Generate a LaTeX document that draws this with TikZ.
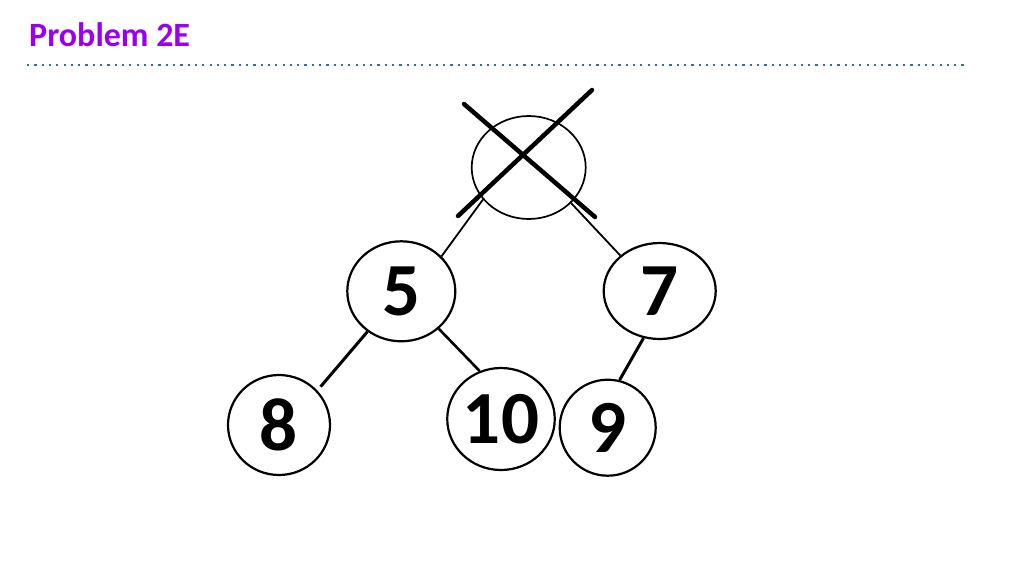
\documentclass[tikz,border=0pt]{standalone}
\usepackage{fontspec}
\setmainfont{Carlito}
\usepackage{xcolor}
\usepackage{tikz}
\usetikzlibrary{shapes.geometric}

\definecolor{titlepurple}{HTML}{9A00F0}
\definecolor{dotblue}{HTML}{2A72A8}

\tikzset{
  heapnode/.style={draw, ellipse, line width=2.2pt, inner sep=0pt,
    font=\fontsize{75}{75}\selectfont\bfseries},
  heapedge/.style={line width=1.8pt},
}

\begin{document}
\begin{tikzpicture}[x=1pt, y=-1pt]
    \useasboundingbox (0,0) rectangle (1024,576);

    % Title
    \node[anchor=base west, inner sep=0pt, text=titlepurple,
      font=\fontsize{34}{34}\selectfont\bfseries] (title) at (29,46) {Problem 2E};

    % Dotted rule
    \draw[dotblue, line width=2.2pt, dash pattern=on 2.2pt off 5.1pt] (27,65) -- (968,65);

    % Root (removed)
    \node[heapnode, line width=1.7pt, minimum width=114pt, minimum height=103pt] (root) at (528.7,167.5) {};
    \draw[line width=4.5pt, line cap=round] (464,104) -- (595,217);
    \draw[line width=4.5pt, line cap=round] (592,90) -- (458,216);

    % Second level
    \node[heapnode, minimum width=108pt, minimum height=100pt] (n5) at (401.3,291.3) {5};
    \node[heapnode, minimum width=112pt, minimum height=96pt] (n7) at (659.7,291) {7};

    % Leaves
    \node[heapnode, minimum width=102pt, minimum height=100pt] (n8) at (279,425) {8};
    \node[heapnode, minimum width=104pt, minimum height=102pt] (n10) at (501,419) {10};
    \node[heapnode, minimum width=96pt, minimum height=96pt] (n9) at (607.7,427.7) {9};

    % Edges
    \draw[heapedge] (root.215) -- (n5.41);
    \draw[heapedge] (root.320) -- (n7.138);
    \draw[heapedge, line width=3pt, shorten >=5pt] (n5.230) -- (n8.42);
    \draw[heapedge, line width=2.6pt] (n5.315) -- (n10.114);
    \draw[heapedge, line width=3pt] (n7.251) -- (n9.76);
\end{tikzpicture}
\end{document}
